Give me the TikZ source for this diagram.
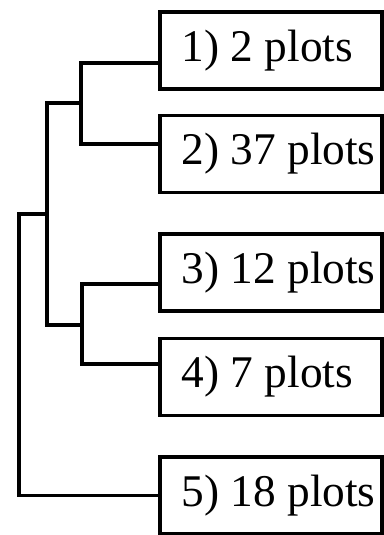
\documentclass[tikz,border=0pt]{standalone}
\usepackage{fontspec}
\setmainfont{Liberation Serif}
\begin{document}
\begin{tikzpicture}[x=0.75pt,y=-0.75pt,
  box/.style={draw=black, line width=2.4pt, minimum width=166.5pt, minimum height=57.75pt, inner sep=0pt, font=\fontsize{34}{40}\selectfont},
  conn/.style={draw=black, line width=2.4pt}]
\useasboundingbox (0,0) rectangle (384,535);
\node[box] (b1) at (271,50.5) {\makebox[134pt][l]{\raisebox{-1.5pt}{1) 2 plots}}};
\node[box] (b2) at (271,154) {\makebox[134pt][l]{\raisebox{-1.5pt}{2) 37 plots}}};
\node[box] (b3) at (271,272.5) {\makebox[134pt][l]{\raisebox{-1.5pt}{3) 12 plots}}};
\node[box] (b4) at (271,377) {\makebox[134pt][l]{\raisebox{-1.5pt}{4) 7 plots}}};
\node[box] (b5) at (271,495.5) {\makebox[134pt][l]{\raisebox{-1.5pt}{5) 18 plots}}};
\coordinate (c1) at (81,63);
\coordinate (c2) at (81,144);
\coordinate (c3) at (82,284);
\coordinate (c4) at (82,364);
\coordinate (m12) at (47,103);
\coordinate (m34) at (47,325);
\coordinate (r) at (19,214);
\draw[conn] (b1.west |- c1) -- (c1) -- (c2) -- (b2.west |- c2);
\draw[conn] (b3.west |- c3) -- (c3) -- (c4) -- (b4.west |- c4);
\draw[conn] (c1 |- m12) -- (m12) -- (m34) -- (c3 |- m34);
\draw[conn] (m12 |- r) -- (r) -- (r |- b5.west) -- (b5.west);
\end{tikzpicture}
\end{document}
